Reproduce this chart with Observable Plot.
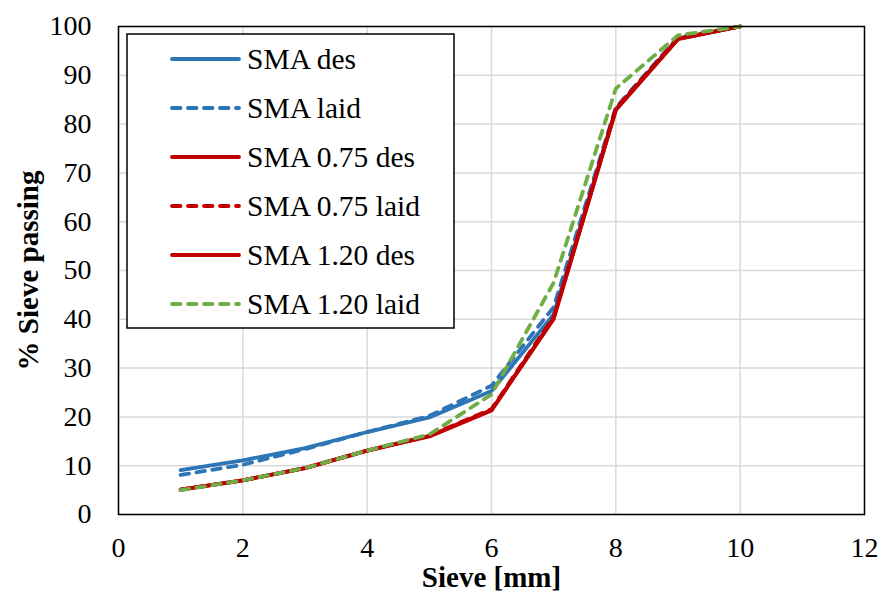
<!DOCTYPE html>
<html>
<head>
<meta charset="utf-8">
<script src="https://cdn.jsdelivr.net/npm/d3@7"></script>
<script src="https://cdn.jsdelivr.net/npm/@observablehq/plot@0.6"></script>
<style>
  html, body { margin: 0; padding: 0; background: #fff; }
  #chart { width: 880px; height: 595px; }
</style>
</head>
<body>
<div id="chart"></div>
<script>
// Sieve sizes (mm) and percent passing for each gradation curve
const sieve = [1, 2, 3, 4, 5, 6, 7, 8, 9, 10];
const smaDes     = [9.1, 11.1, 13.6, 16.9, 19.9, 25.3, 41.0, 83.0, 97.5, 100];
const smaLaid    = [8.1, 10.2, 13.4, 16.9, 20.2, 26.4, 42.5, 83.4, 97.8, 100];
const sma075Des  = [5.1, 7.0, 9.5, 13.1, 16.1, 21.4, 40.2, 83.0, 97.5, 100];
const sma075Laid = [5.1, 7.0, 9.5, 13.1, 16.2, 21.6, 40.5, 83.2, 97.6, 100];
const sma120Des  = [5.1, 7.0, 9.5, 13.1, 16.0, 21.3, 40.1, 82.9, 97.4, 100];
const sma120Laid = [5.0, 7.0, 9.5, 13.1, 16.4, 24.6, 47.5, 87.3, 98.2, 100];

const seriesNames  = ["SMA des", "SMA laid", "SMA 0.75 des", "SMA 0.75 laid", "SMA 1.20 des", "SMA 1.20 laid"];
const seriesValues = [smaDes, smaLaid, sma075Des, sma075Laid, sma120Des, sma120Laid];
const seriesColors = ["#2E75B6", "#2E75B6", "#C00000", "#C00000", "#C00000", "#70AD47"];
const seriesDashed = [false, true, false, true, false, true];

const xTicks = [0, 2, 4, 6, 8, 10, 12];
const yTicks = [0, 10, 20, 30, 40, 50, 60, 70, 80, 90, 100];

const font = "'Liberation Serif', 'Times New Roman', serif";
const dash = "8.5,7.5";

const lineMarks = seriesNames.map((name, i) =>
  Plot.line(sieve.map((s, j) => ({x: s, y: seriesValues[i][j]})), {
    x: "x", y: "y",
    stroke: seriesColors[i],
    strokeWidth: 3.8,
    strokeLinejoin: "round",
    strokeLinecap: "round",
    strokeDasharray: seriesDashed[i] ? dash : null
  })
);

const chart = Plot.plot({
  width: 880,
  height: 595,
  marginLeft: 118,
  marginRight: 16,
  marginTop: 26,
  marginBottom: 81,
  style: {fontFamily: font, fontSize: "28px", color: "#000", background: "#fff"},
  x: {domain: [0, 12]},
  y: {domain: [0, 100]},
  marks: [
    Plot.gridX(xTicks, {stroke: "#d9d9d9", strokeOpacity: 1, strokeWidth: 1.5}),
    Plot.gridY(yTicks, {stroke: "#d9d9d9", strokeOpacity: 1, strokeWidth: 1.5}),
    Plot.axisX(xTicks, {tickSize: 0, tickPadding: 23, label: null, fontSize: 28, fill: "#000"}),
    Plot.axisY(yTicks, {tickSize: 0, tickPadding: 27, label: null, fontSize: 28, fill: "#000"}),
    ...lineMarks,
    Plot.frame({stroke: "#000", strokeWidth: 1.5}),
    Plot.text(["Sieve [mm]"], {
      frameAnchor: "bottom", dy: 72, lineAnchor: "bottom", textAnchor: "middle",
      fontWeight: "bold", fontSize: 29, fill: "#000"
    }),
    Plot.text(["% Sieve passing"], {
      frameAnchor: "left", dx: -81, rotate: -90, lineAnchor: "bottom", textAnchor: "middle",
      fontWeight: "bold", fontSize: 29, fill: "#000"
    })
  ]
});

document.getElementById("chart").appendChild(chart);

// Legend box inside the plot area
const svg = d3.select(chart);
const legend = svg.append("g")
  .style("font-family", font)
  .attr("text-anchor", "start");
legend.append("rect")
  .attr("x", 127).attr("y", 34).attr("width", 327).attr("height", 294)
  .attr("fill", "#fff").attr("stroke", "#000").attr("stroke-width", 1.5);
seriesNames.forEach((name, i) => {
  const cy = 59 + i * 49;
  legend.append("line")
    .attr("x1", 172).attr("x2", 239).attr("y1", cy).attr("y2", cy)
    .attr("stroke", seriesColors[i]).attr("stroke-width", 3.8)
    .attr("stroke-linecap", "round")
    .attr("stroke-dasharray", seriesDashed[i] ? dash : null);
  legend.append("text")
    .attr("x", 247).attr("y", cy).attr("dy", "0.35em")
    .attr("text-anchor", "start")
    .style("font-family", font)
    .attr("font-size", 29.5).attr("fill", "#000")
    .text(name);
});
</script>
</body>
</html>
